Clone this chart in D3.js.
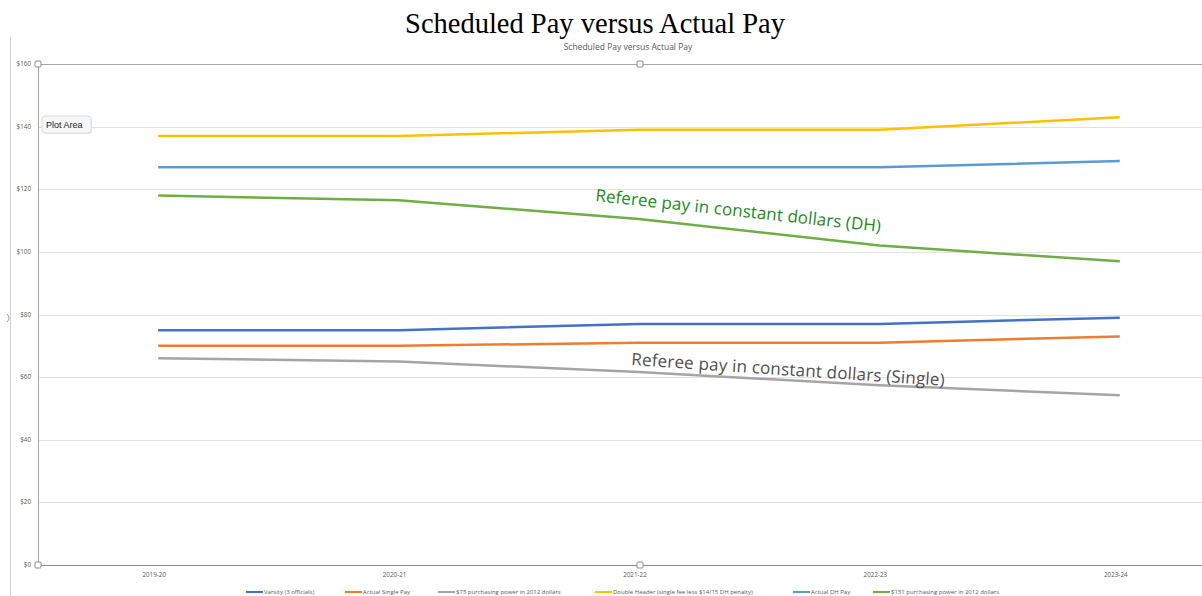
<!DOCTYPE html>
<html>
<head>
<meta charset="utf-8">
<title>Scheduled Pay versus Actual Pay</title>
<style>
  body { margin: 0; background: #fff; }
  svg { display: block; }
</style>
<script src="https://d3js.org/d3.v7.min.js"></script>
</head>
<body>
<svg id="chart"></svg>
<script>
var width = 1202, height = 596;

// data
var seasons = ["2019-20", "2020-21", "2021-22", "2022-23", "2023-24"];
var varsity = [75, 75, 77, 77, 79];
var actualSingle = [70, 70, 71, 71, 73];
var power73 = [66, 65, 61.6, 57.4, 54.2];
var doubleHeader = [137, 137, 139, 139, 143];
var actualDH = [127, 127, 127, 127, 129];
var power131 = [118, 116.5, 110.5, 102, 97];
var yTicks = [0, 20, 40, 60, 80, 100, 120, 140, 160];

var series = [
  { name: "Varsity (3 officials)", values: varsity, color: "#4472c4" },
  { name: "Actual Single Pay", values: actualSingle, color: "#ed7d31" },
  { name: "$73 purchasing power in 2012 dollars", values: power73, color: "#a5a5a5" },
  { name: "Double Header (single fee less $14/15 DH penalty)", values: doubleHeader, color: "#ffc000" },
  { name: "Actual DH Pay", values: actualDH, color: "#5b9bd5" },
  { name: "$131 purchasing power in 2012 dollars", values: power131, color: "#70ad47" }
];

var svg = d3.select("#chart").attr("width", width).attr("height", height);

var plotLeft = 38, plotTop = 64, plotBottom = 565;
var x = d3.scaleBand().domain(seasons).range([plotLeft, 1240]);
var y = d3.scaleLinear().domain([0, 160]).range([plotBottom, plotTop]);

// big title
svg.append("text")
  .attr("x", 595).attr("y", 33)
  .attr("text-anchor", "middle")
  .style("font-family", "'Liberation Serif', 'Times New Roman', serif")
  .style("font-size", "28.5px")
  .attr("fill", "#000")
  .text("Scheduled Pay versus Actual Pay");

// chart border on left
svg.append("line")
  .attr("x1", 10.5).attr("x2", 10.5).attr("y1", 37).attr("y2", height)
  .attr("stroke", "#d0d0d0").attr("stroke-width", 1);

// small chart title
svg.append("text")
  .attr("x", 628).attr("y", 50)
  .attr("text-anchor", "middle")
  .style("font-family", "'Open Sans', 'Liberation Sans', sans-serif")
  .style("font-size", "8.5px")
  .attr("fill", "#595959")
  .text("Scheduled Pay versus Actual Pay");

// gridlines
svg.append("g").selectAll("line")
  .data(yTicks.filter(function(d) { return d > 0 && d < 160; }))
  .join("line")
  .attr("x1", plotLeft).attr("x2", width)
  .attr("y1", function(d) { return Math.round(y(d)) + 0.5; })
  .attr("y2", function(d) { return Math.round(y(d)) + 0.5; })
  .attr("stroke", "#e2e2e2").attr("stroke-width", 1);

// plot area selection border (top & left) + x axis
svg.append("line")
  .attr("x1", plotLeft).attr("x2", width).attr("y1", y(160) + 0.5).attr("y2", y(160) + 0.5)
  .attr("stroke", "#a6a6a6");
svg.append("line")
  .attr("x1", plotLeft + 0.5).attr("x2", plotLeft + 0.5).attr("y1", y(160)).attr("y2", y(0))
  .attr("stroke", "#a6a6a6");
svg.append("line")
  .attr("x1", plotLeft).attr("x2", width).attr("y1", y(0) + 0.5).attr("y2", y(0) + 0.5)
  .attr("stroke", "#8c8c8c");

// y tick labels
svg.append("g").selectAll("text")
  .data(yTicks)
  .join("text")
  .attr("x", 31).attr("y", function(d) { return y(d) + 2; })
  .attr("text-anchor", "end")
  .style("font-family", "'Open Sans', 'Liberation Sans', sans-serif")
  .style("font-size", "6.3px")
  .attr("fill", "#595959")
  .text(function(d) { return "$" + d; });

// x tick labels
svg.append("g").selectAll("text")
  .data(seasons)
  .join("text")
  .attr("x", function(d) { return x(d) + x.bandwidth() / 2 - 4; })
  .attr("y", 577)
  .attr("text-anchor", "middle")
  .style("font-family", "'Open Sans', 'Liberation Sans', sans-serif")
  .style("font-size", "6.3px")
  .attr("fill", "#595959")
  .text(function(d) { return d; });

// lines
var line = d3.line()
  .x(function(d, i) { return x(seasons[i]) + x.bandwidth() / 2; })
  .y(function(d) { return y(d); });

svg.append("g").selectAll("path")
  .data(series)
  .join("path")
  .attr("d", function(d) { return line(d.values); })
  .attr("fill", "none")
  .attr("stroke", function(d) { return d.color; })
  .attr("stroke-width", 2.5)
  .attr("stroke-linejoin", "round");

// annotations
svg.append("text")
  .attr("transform", "translate(595,201) rotate(6.2)")
  .style("font-family", "'Open Sans', 'Noto Sans', sans-serif")
  .style("font-size", "17px")
  .attr("textLength", 287)
  .attr("fill", "#1e8b1e")
  .text("Referee pay in constant dollars (DH)");

svg.append("text")
  .attr("transform", "translate(631,365) rotate(3.8)")
  .style("font-family", "'Open Sans', 'Noto Sans', sans-serif")
  .style("font-size", "17px")
  .attr("textLength", 314)
  .attr("fill", "#505050")
  .text("Referee pay in constant dollars (Single)");

// selection handles
var handles = [[plotLeft, y(160)], [640, y(160)], [plotLeft, y(0)], [640, y(0)]];
svg.append("g").selectAll("rect")
  .data(handles)
  .join("rect")
  .attr("x", function(d) { return d[0] - 3; })
  .attr("y", function(d) { return d[1] - 3; })
  .attr("width", 6).attr("height", 6).attr("rx", 1)
  .attr("fill", "#fff").attr("stroke", "#8c8c8c");
svg.append("path")
  .attr("d", "M7,314 Q11,318 7,322")
  .attr("fill", "none").attr("stroke", "#9a9a9a");

// "Plot Area" tooltip
var tip = svg.append("g").attr("transform", "translate(42,116)");
tip.append("rect")
  .attr("x", 1).attr("y", 1).attr("width", 49).attr("height", 17).attr("rx", 3)
  .attr("fill", "#e9e9e9");
tip.append("rect")
  .attr("width", 49).attr("height", 17).attr("rx", 3)
  .attr("fill", "#f7f7f7").attr("stroke", "#dcdcdc");
tip.append("text")
  .attr("x", 4).attr("y", 12)
  .style("font-family", "'Liberation Sans', Arial, sans-serif")
  .style("font-size", "9px")
  .attr("fill", "#222")
  .text("Plot Area");

// legend
var legendX = [246, 345, 438, 595, 793, 873];
var legend = svg.append("g").selectAll("g")
  .data(series)
  .join("g")
  .attr("transform", function(d, i) { return "translate(" + legendX[i] + ",592)"; });
legend.append("line")
  .attr("x1", 0).attr("x2", 17).attr("y1", 0).attr("y2", 0)
  .attr("stroke", function(d) { return d.color; }).attr("stroke-width", 2);
legend.append("text")
  .attr("x", 18).attr("y", 2)
  .style("font-family", "'Open Sans', 'Liberation Sans', sans-serif")
  .style("font-size", "6px")
  .attr("fill", "#595959")
  .text(function(d) { return d.name; });
</script>
</body>
</html>
